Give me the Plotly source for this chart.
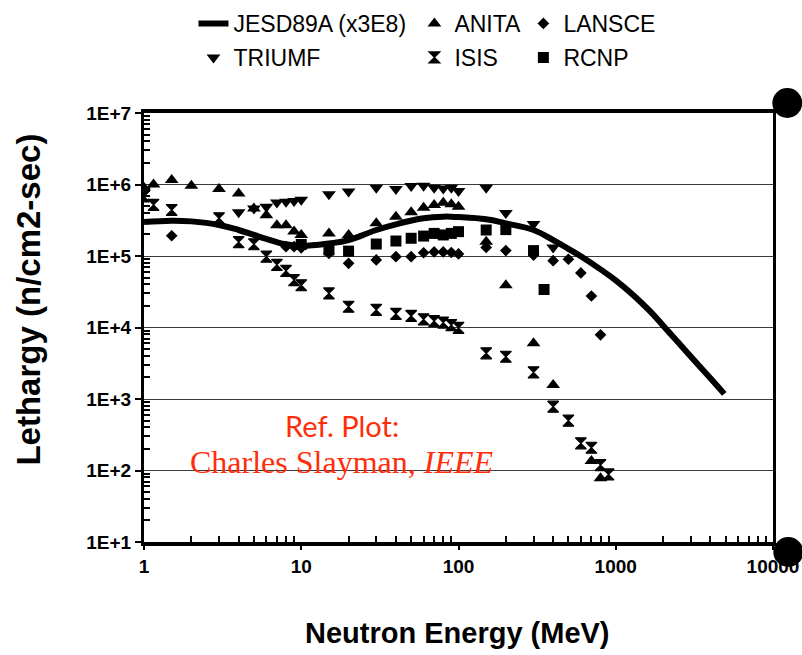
import plotly.graph_objects as go

# ---------------- data ----------------
jesd_e = [1, 1.5, 2, 3, 4, 5, 6, 7, 8, 10, 15, 20, 30, 40, 60, 80, 100, 150, 200, 300, 400, 500, 600, 800,
          1000, 1300, 1650, 2150, 2500, 3140, 4000, 4900]
jesd_v = [2.98e5, 3.12e5, 3.05e5, 2.72e5, 2.31e5, 1.97e5, 1.73e5, 1.56e5, 1.46e5, 1.39e5, 1.5e5, 1.67e5, 2.31e5,
          2.77e5, 3.37e5, 3.55e5, 3.5e5, 3.26e5, 2.86e5, 2.31e5, 1.67e5, 1.26e5, 9.9e4, 6.5e4,
          4.56e4, 2.8e4, 1.69e4, 8.9e3, 6.15e3, 3.5e3, 1.95e3, 1.18e3]

anita_e = [1, 1.15, 1.5, 2, 3, 4, 5, 6, 7, 8, 9, 10, 15, 20, 30, 40, 50, 60, 70, 80, 90, 100, 150, 200, 300, 400, 700, 800]
anita_v = [9.0e5, 1.0e6, 1.16e6, 9.6e5, 8.65e5, 7.5e5, 4.6e5, 3.7e5, 2.7e5, 2.7e5, 2.2e5, 1.97e5, 2.07e5, 1.97e5,
           2.86e5, 3.55e5, 4.08e5, 4.74e5, 5.17e5, 5.56e5, 5.28e5, 4.9e5, 1.58e5, 3.9e4, 6.0e3, 1.57e3, 136, 78]

triumf_e = [1, 4, 5, 6, 7, 8, 9, 10, 15, 20, 30, 40, 50, 60, 70, 80, 90, 100, 150, 200, 300, 400]
triumf_v = [8.0e5, 4.1e5, 4.6e5, 4.9e5, 5.6e5, 5.75e5, 5.9e5, 6.1e5, 7.3e5, 7.95e5, 9.0e5, 8.65e5, 9.5e5, 9.6e5,
            9.0e5, 8.8e5, 9.0e5, 8.1e5, 9.0e5, 4.0e5, 2.8e5, 1.32e5]

isis_e = [1, 1.15, 1.5, 3, 4, 5, 6, 7, 8, 9, 10, 15, 20, 30, 40, 50, 60, 70, 80, 90, 100, 150, 200, 300, 400, 500,
          600, 700, 800, 900]
isis_v = [6.8e5, 5.2e5, 4.4e5, 3.37e5, 1.56e5, 1.46e5, 9.8e4, 7.5e4, 6.2e4, 4.6e4, 3.9e4, 3.0e4, 1.95e4, 1.76e4,
          1.55e4, 1.45e4, 1.3e4, 1.23e4, 1.17e4, 1.08e4, 9.9e3, 4.36e3, 3.9e3, 2.36e3, 780, 498, 240, 208, 119, 88]

lansce_e = [1.5, 8, 9, 10, 15, 20, 30, 40, 50, 60, 70, 80, 90, 100, 150, 200, 300, 400, 500, 600, 700, 800]
lansce_v = [1.92e5, 1.35e5, 1.35e5, 1.3e5, 1.09e5, 7.9e4, 8.8e4, 9.8e4, 9.8e4, 1.11e5, 1.14e5, 1.14e5, 1.12e5,
            1.07e5, 1.32e5, 1.19e5, 1.03e5, 8.6e4, 9.0e4, 5.8e4, 2.76e4, 7.9e3]

rcnp_e = [10, 15, 20, 30, 40, 50, 60, 70, 80, 90, 100, 150, 200, 300, 350]
rcnp_v = [1.45e5, 1.21e5, 1.17e5, 1.47e5, 1.62e5, 1.77e5, 1.9e5, 2.07e5, 1.97e5, 2.07e5, 2.19e5, 2.31e5, 2.34e5,
          1.19e5, 3.4e4]

x_ticks = [1, 10, 100, 1000, 10000]
x_ticktext = ["1", "10", "100", "1000", "10000"]
y_ticks = [1e1, 1e2, 1e3, 1e4, 1e5, 1e6, 1e7]
y_ticktext = ["1E+1", "1E+2", "1E+3", "1E+4", "1E+5", "1E+6", "1E+7"]

# ---------------- geometry ----------------
W, H = 802, 655
L, R, T, B = 143.5, 772.7, 113, 542  # plot area in pixels


def px(xp):
    return (xp - L) / (R - L)


def py(yp):
    return (B - yp) / (B - T)


SANS = "Arial, Liberation Sans, sans-serif"
LEG_FONT = 23
item_h = LEG_FONT * 1.3 + 3
row_gap = max(34 - item_h, 0)

fig = go.Figure()

mk = dict(color="black", line=dict(width=0))
fig.add_trace(go.Scatter(x=triumf_e, y=triumf_v, mode="markers", name="TRIUMF",
                         marker=dict(symbol="triangle-down", size=12, **mk),
                         legend="legend", legendgroup="t", legendrank=2))
fig.add_trace(go.Scatter(x=anita_e, y=anita_v, mode="markers", name="ANITA",
                         marker=dict(symbol="triangle-up", size=12, **mk),
                         legend="legend2", legendgroup="a", legendrank=1))
fig.add_trace(go.Scatter(x=isis_e, y=isis_v, mode="markers", name="ISIS",
                         marker=dict(symbol="hourglass", size=11, color="black",
                                     line=dict(width=1.2, color="black")),
                         legend="legend2", legendgroup="i", legendrank=2))
fig.add_trace(go.Scatter(x=lansce_e, y=lansce_v, mode="markers", name="LANSCE",
                         marker=dict(symbol="diamond", size=9, **mk),
                         legend="legend3", legendgroup="l", legendrank=1))
fig.add_trace(go.Scatter(x=rcnp_e, y=rcnp_v, mode="markers", name="RCNP",
                         marker=dict(symbol="square", size=11, **mk),
                         legend="legend3", legendgroup="r", legendrank=2))
fig.add_trace(go.Scatter(x=jesd_e, y=jesd_v, mode="lines", name="JESD89A (x3E8)",
                         line=dict(color="black", width=6, shape="spline", smoothing=1.2),
                         legend="legend", legendgroup="j", legendrank=1))

minor_x = [m * 10 ** k for k in range(0, 4) for m in range(2, 10)]
minor_y = [m * 10 ** k for k in range(1, 7) for m in range(2, 10)]

axis_font = dict(family=SANS, size=19, color="black", weight="bold")
fig.update_xaxes(type="log", range=[0, 4], tickmode="array", tickvals=x_ticks, ticktext=x_ticktext,
                 ticks="outside", ticklen=4, tickwidth=2, tickcolor="black",
                 showline=True, linewidth=4, linecolor="black", mirror=True,
                 showgrid=False, zeroline=False, tickfont=axis_font,
                 minor=dict(tickmode="array", tickvals=minor_x, ticks="inside", ticklen=6,
                            tickwidth=2, tickcolor="black", showgrid=False))
fig.update_yaxes(type="log", range=[1, 7], tickmode="array", tickvals=y_ticks, ticktext=y_ticktext,
                 ticks="outside", ticklen=6, tickwidth=2, tickcolor="black",
                 showline=True, linewidth=3, linecolor="black", mirror=True,
                 showgrid=True, gridcolor="#3a3a3a", gridwidth=1, zeroline=False, tickfont=axis_font,
                 minor=dict(tickmode="array", tickvals=minor_y, ticks="inside", ticklen=6,
                            tickwidth=2, tickcolor="black", showgrid=False))

leg_common = dict(orientation="v", xanchor="left", yanchor="top", bgcolor="rgba(0,0,0,0)",
                  borderwidth=0, font=dict(family=SANS, size=LEG_FONT, color="black"),
                  traceorder="grouped", tracegroupgap=row_gap, itemsizing="trace")
leg_top = py(2)

fig.update_layout(
    width=W, height=H,
    margin=dict(l=L, r=W - R, t=T, b=H - B, pad=0, autoexpand=False),
    paper_bgcolor="white", plot_bgcolor="white",
    showlegend=True,
    legend=dict(x=px(193), y=leg_top, **leg_common),
    legend2=dict(x=px(414), y=leg_top, **leg_common),
    legend3=dict(x=px(523), y=leg_top, **leg_common),
    annotations=[
        dict(text="Lethargy (n/cm2-sec)", x=px(27), y=py(300), xref="paper", yref="paper",
             textangle=-90, showarrow=False, xanchor="center", yanchor="middle",
             font=dict(family=SANS, size=33, color="black", weight="bold")),
        dict(text="Neutron Energy (MeV)", x=px(457), y=py(633), xref="paper", yref="paper",
             showarrow=False, xanchor="center", yanchor="middle",
             font=dict(family=SANS, size=29, color="black", weight="bold")),
        dict(text="Ref. Plot:", x=px(342), y=py(425), xref="paper", yref="paper",
             showarrow=False, xanchor="center", yanchor="middle",
             font=dict(family="Lato, sans-serif", size=29, color="#ff2d0a")),
        dict(text="Charles Slayman, <i>IEEE</i>", x=px(341), y=py(462), xref="paper", yref="paper",
             showarrow=False, xanchor="center", yanchor="middle",
             font=dict(family="Liberation Serif, Times New Roman, serif", size=32, color="#ff2d0a")),
    ],
    shapes=[
        dict(type="circle", xref="paper", yref="paper", x0=px(772), x1=px(802), y0=py(88), y1=py(118),
             fillcolor="black", line=dict(width=0), layer="above"),
        dict(type="circle", xref="paper", yref="paper", x0=px(773), x1=px(803), y0=py(537), y1=py(567),
             fillcolor="black", line=dict(width=0), layer="above"),
    ],
)

fig.write_html("out.html")
